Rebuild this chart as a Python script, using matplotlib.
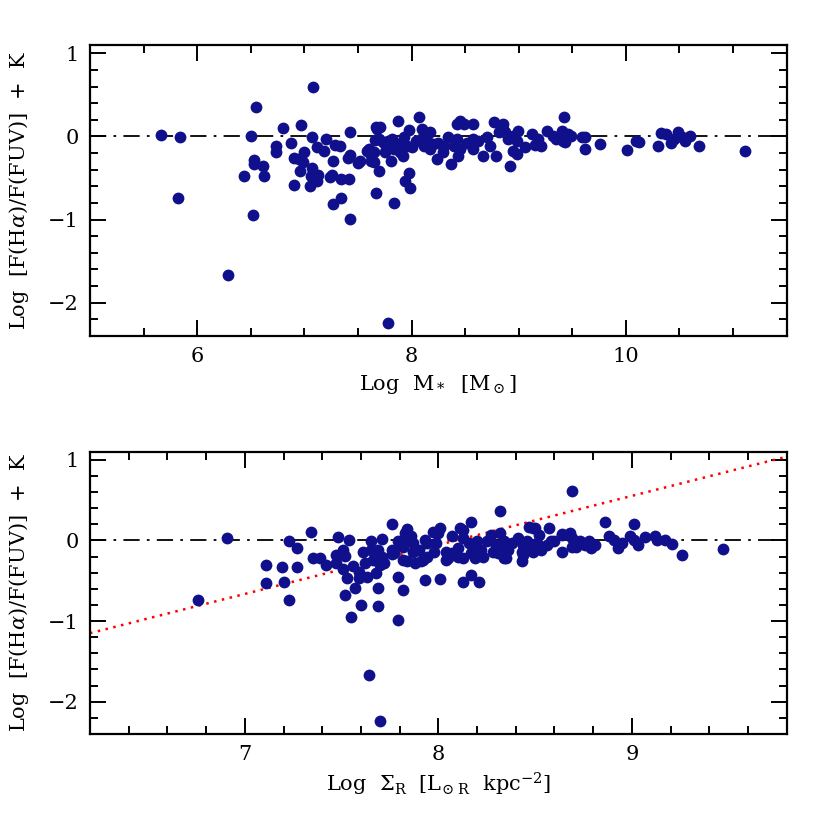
import matplotlib
matplotlib.use("Agg")
import matplotlib.pyplot as plt
from matplotlib.ticker import MultipleLocator
import numpy as np

plt.rcParams['font.family'] = ['DejaVu Serif']
plt.rcParams['mathtext.fontset'] = 'dejavuserif'

# ---- Top panel data: Log M* vs Log[F(Ha)/F(FUV)] + K ----
mass = [5.66, 5.84, 5.82, 6.29, 6.55, 6.50, 6.53, 6.53, 6.61, 6.44, 6.62, 6.52,
        6.80, 6.74, 6.74, 6.88, 6.97, 6.90, 6.95, 6.99, 7.00, 6.96, 6.90,
        7.08, 7.07, 7.12, 7.18, 7.20, 7.07, 7.06, 7.11, 7.13, 7.12, 7.05,
        7.27, 7.29, 7.33, 7.24, 7.26, 7.34, 7.42, 7.34, 7.27, 7.43,
        7.43, 7.41, 7.43, 7.50, 7.52, 7.58, 7.62,
        7.67, 7.71, 7.66, 7.65, 7.70, 7.67, 7.78, 7.84, 7.87, 7.94, 7.99, 7.98, 7.98,
        7.60, 7.65, 7.70, 7.73, 7.75, 7.76, 7.81, 7.82, 7.84, 7.87, 7.89, 7.92, 7.93, 7.96, 7.68,
        8.07, 8.10, 8.17,
        8.04, 8.09, 8.15, 8.17, 8.20, 8.24, 8.29, 8.34, 8.37, 8.40, 8.43, 8.42, 8.45,
        8.42, 8.45, 8.49, 8.57, 8.57, 8.57,
        8.67, 8.70, 8.73, 8.77, 8.79, 8.82, 8.85, 8.85,
        8.87, 8.90, 8.95, 8.98, 8.99, 8.95, 8.98, 9.06, 9.12, 9.15, 9.18, 9.21, 9.26,
        9.32, 9.35, 9.40, 9.41, 9.43, 9.46, 9.49, 9.59, 9.62, 9.62, 9.76, 10.01, 10.09,
        10.12, 8.92, 9.42,
        10.30, 10.33, 10.37, 10.42, 10.45, 10.49, 10.52, 10.55, 10.60, 10.68, 11.11,
        7.62, 7.78, 7.90, 8.00, 8.12, 8.25, 8.30, 8.52, 8.62]
ratio_top = [0.02, -0.01, -0.74, -1.67, 0.36, 0.01, -0.28, -0.33, -0.35, -0.47, -0.48, -0.95,
             0.10, -0.12, -0.19, -0.08, 0.14, -0.26, -0.27, -0.31, -0.19, -0.41, -0.59,
             0.60, -0.01, -0.13, -0.17, -0.03, -0.38, -0.48, -0.49, -0.46, -0.53, -0.60,
             -0.30, -0.10, -0.11, -0.49, -0.46, -0.51, -0.51, -0.74, -0.81, -0.99,
             0.05, -0.26, -0.22, -0.32, -0.29, -0.17, -0.29,
             0.11, 0.11, -0.04, -0.31, -0.42, -0.68, -2.24, -0.80, 0.19, -0.53, -0.62, -0.44, 0.08,
             -0.15, -0.19, -0.03, -0.07, -0.19, -0.11, -0.29, -0.03, -0.15, -0.11, -0.19, -0.23, -0.01, -0.11, 0.09,
             0.23, 0.09, 0.05,
             -0.05, -0.03, -0.07, -0.15, -0.09, -0.27, -0.19, -0.01, -0.33, -0.11, -0.23, -0.03, -0.15,
             0.15, 0.19, 0.15, 0.15, -0.03, -0.15,
             -0.23, -0.01, -0.11, 0.17, -0.23, 0.05, 0.09, 0.15,
             0.05, -0.03, 0.01, -0.05, 0.07, -0.17, -0.21, -0.13, 0.03, -0.10, -0.03, -0.11, 0.07,
             0.01, -0.03, 0.07, -0.05, -0.07, 0.03, 0.01, -0.01, -0.01, -0.15, -0.09, -0.16, -0.05,
             -0.07, -0.36, 0.23,
             -0.11, 0.04, 0.03, -0.08, -0.03, 0.05, -0.01, -0.05, 0.00, -0.11, -0.18,
             -0.22, -0.05, -0.08, -0.13, -0.12, -0.08, -0.12, -0.08, -0.05]

# ---- Bottom panel data: Log Sigma_R vs Log[F(Ha)/F(FUV)] + K ----
sigma = [6.76, 6.91, 7.11, 7.11, 7.19, 7.20, 7.23, 7.23, 7.27, 7.27, 7.34, 7.35, 7.39, 7.42,
         7.48, 7.47, 7.47, 7.51, 7.52, 7.51, 7.54, 7.56, 7.53, 7.52, 7.57, 7.55, 7.59, 7.59,
         7.60, 7.61, 7.62, 7.63, 7.65, 7.65, 7.66, 7.68, 7.69, 7.69, 7.64, 7.70, 7.71, 7.69,
         7.71, 7.70, 7.72, 7.76, 7.76, 7.76, 7.79, 7.79, 7.79, 7.81, 7.82, 7.84, 7.85, 7.87,
         7.82, 7.84, 7.88, 7.82, 7.77, 7.82,
         7.83, 7.86, 7.87, 7.90, 7.92, 7.93, 7.94, 7.94, 7.97, 7.99, 7.98, 8.01, 8.00, 7.93,
         8.01, 7.91,
         8.04, 8.05, 8.07, 8.07, 8.10, 8.10, 8.11, 8.13, 8.13, 8.13, 8.16, 8.17, 8.17, 8.19,
         8.19, 8.20, 8.22, 8.23, 8.13, 8.17, 8.21, 8.04,
         8.25, 8.27, 8.28, 8.30, 8.32, 8.32, 8.32, 8.34, 8.34, 8.36, 8.38, 8.31, 8.35,
         8.41, 8.43, 8.43, 8.44, 8.46, 8.47, 8.48, 8.49, 8.51, 8.52, 8.53, 8.56, 8.57, 8.58,
         8.60, 8.64, 8.64, 8.68, 8.69, 8.69, 8.44, 8.49, 8.50,
         8.86, 9.01, 8.64, 8.69, 8.73, 8.71, 8.76, 8.79, 8.81, 8.78, 8.79,
         8.88, 8.91, 8.93, 8.95, 8.99, 9.01, 9.03, 9.07, 9.12, 9.13, 9.17, 9.21, 9.26, 9.47]
ratio_bot = [-0.74, 0.03, -0.30, -0.53, -0.33, -0.52, -0.74, -0.01, -0.09, -0.33, 0.11, -0.22, -0.22, -0.30,
             0.04, -0.18, -0.28, -0.12, -0.19, -0.35, 0.00, -0.32, -0.47, -0.68, -0.59, -0.95, -0.39, -0.47,
             -0.80, -0.14, -0.28, -0.45, -0.01, -0.12, -0.24, -0.41, -0.59, -0.81, -1.67, -2.24, 0.02, -0.12,
             -0.20, -0.30, -0.28, 0.20, -0.12, -0.17, -0.45, -0.99, -0.01, -0.06, 0.01, 0.14, 0.05, -0.03,
             -0.24, -0.25, -0.28, -0.61, -0.16, -0.08,
             0.09, 0.05, -0.14, -0.12, -0.24, 0.01, -0.03, -0.20, 0.11, -0.03, -0.14, 0.15, 0.09, -0.49,
             -0.48, -0.26,
             -0.14, -0.22, -0.16, 0.05, -0.10, -0.20, 0.15, 0.13, 0.03, -0.22, -0.03, 0.23, -0.16, -0.08,
             -0.22, -0.01, -0.12, -0.20, -0.51, -0.43, -0.52, -0.24,
             -0.01, 0.07, -0.14, -0.06, 0.09, 0.37, -0.12, -0.01, -0.22, -0.12, -0.03, -0.16, -0.22,
             0.03, -0.14, -0.26, -0.06, -0.01, 0.17, -0.10, 0.15, -0.03, 0.07, -0.12, -0.06, 0.15, -0.01,
             -0.01, 0.07, -0.14, 0.09, -0.08, 0.61, -0.18, -0.14, 0.15,
             0.23, 0.20, 0.08, 0.03, -0.01, -0.08, -0.06, -0.08, -0.06, -0.01, -0.10,
             0.05, 0.01, -0.10, -0.03, 0.05, 0.01, -0.06, 0.04, 0.05, 0.01, 0.01, -0.05, -0.18, -0.11]

# Linear fit shown in the bottom panel
fit_slope = 0.608
fit_intercept = -4.92

dot_color = '#10108c'

fig = plt.figure(figsize=(8.3, 8.3), dpi=100)
ax1 = fig.add_axes([0.1084, 0.5952, 0.8394, 0.3506])
ax2 = fig.add_axes([0.1084, 0.1157, 0.8394, 0.3401])

def style(ax, xmaj, xmin):
    ax.xaxis.set_major_locator(MultipleLocator(xmaj))
    ax.xaxis.set_minor_locator(MultipleLocator(xmin))
    ax.yaxis.set_major_locator(MultipleLocator(1))
    ax.yaxis.set_minor_locator(MultipleLocator(0.2))
    ax.tick_params(which='both', direction='in', top=True, right=True, width=1.4,
                   labelsize=15, pad=8)
    ax.tick_params(which='major', length=11.5)
    ax.tick_params(which='minor', length=5.8)
    for sp in ax.spines.values():
        sp.set_linewidth(1.6)

# Top panel
ax1.axhline(0, color='black', lw=1.3, ls=(0, (9, 4, 1.5, 4)), zorder=1)
ax1.plot(mass, ratio_top, 'o', color=dot_color, ms=8.5, mew=0, zorder=3)
ax1.set_xlim(5, 11.5)
ax1.set_ylim(-2.4, 1.1)
style(ax1, 2, 0.5)
ax1.set_xlabel(r'Log  M$_*$  [M$_\odot$]', fontsize=15, labelpad=5)
ax1.set_ylabel(r'Log  [F(H$\alpha$)/F(FUV)]  +  K', fontsize=15, labelpad=12)

# Bottom panel
xs = np.array([6.2, 9.8])
ax2.axhline(0, color='black', lw=1.3, ls=(0, (9, 4, 1.5, 4)), zorder=1)
ax2.plot(xs, fit_slope * xs + fit_intercept, color='red', lw=1.8, ls=(0, (1, 2.2)), zorder=2)
ax2.plot(sigma, ratio_bot, 'o', color=dot_color, ms=8.5, mew=0, zorder=3)
ax2.set_xlim(6.2, 9.8)
ax2.set_ylim(-2.4, 1.1)
style(ax2, 1, 0.2)
ax2.set_xlabel(r'Log  $\Sigma_{\rm R}$  [L$_{\odot\ \rm R}$  kpc$^{-2}$]', fontsize=15, labelpad=5)
ax2.set_ylabel(r'Log  [F(H$\alpha$)/F(FUV)]  +  K', fontsize=15, labelpad=12)

fig.savefig('out.png', dpi=100)
